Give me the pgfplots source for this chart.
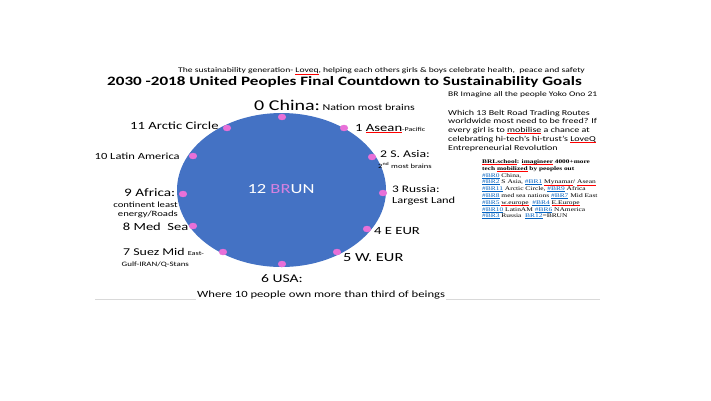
\documentclass[border=0pt]{standalone}
\usepackage{pgfplots}
\pgfplotsset{compat=1.18}
\usepackage{fontspec}
\setmainfont{Carlito}[FakeStretch=1.333]
\newfontfamily\tnr{Liberation Serif}[FakeStretch=1.333]
\definecolor{ellblue}{RGB}{68,114,196}
\definecolor{dotpink}{RGB}{232,112,216}
\definecolor{brpink}{RGB}{214,130,224}
\definecolor{linkblue}{RGB}{5,99,193}
\definecolor{rulegray}{RGB}{217,217,217}
\newcommand{\fs}[1]{\fontsize{#1}{#1}\selectfont}
\newcommand{\sq}[1]{\setbox0\hbox{#1}\rlap{\raisebox{-1.1pt}{\textcolor{red}{\rule{\wd0}{0.35pt}}}}\box0\relax}
\newcommand{\lk}[1]{\setbox0\hbox{\textcolor{linkblue}{#1}}\rlap{\raisebox{-0.8pt}{\textcolor{linkblue}{\rule{\wd0}{0.3pt}}}}\box0\relax}
\tikzset{
  lab/.style={inner sep=0pt, anchor=base west},
  labr/.style={inner sep=0pt, anchor=base east},
}
\begin{document}
\begin{tikzpicture}
\begin{axis}[
  width=711pt, height=400pt, scale only axis,
  xmin=0, xmax=711, ymin=0, ymax=400, y dir=reverse,
  hide axis, clip=false,
]
\fill[white] (axis cs:0,0) rectangle (axis cs:711,400);
\fill[ellblue] (axis cs:281.5,190) ellipse [x radius=104.5, y radius=77];
\draw[rulegray, line width=1.6pt] (axis cs:95,299.3) -- (axis cs:600,299.3);
\addplot[only marks, mark=*, mark size=3pt, color=dotpink, mark options={xscale=1.3}] coordinates {
 (282,117) (344,128) (372,157) (383,193) (367,229) (337,252)
 (282,264) (223,252) (193,226) (183,194) (193,156) (227,128)};
% header
\node[lab, font=\fs{7.2}] at (axis cs:178,72.9) {The sustainability generation- \sq{Loveq}, helping each others girls \& boys celebrate health,\ \ peace and safety};
\node[lab, font=\bfseries\fs{12.8}] at (axis cs:107,85.7) {2030 -2018 United Peoples Final Countdown to Sustainability Goals};
\node[lab, font=\fs{7.15}] at (axis cs:448,96.7) {BR Imagine all the people Yoko Ono 21};
% paragraph
\node[lab, font=\fs{7.5}] at (axis cs:448,115.2) {Which 13 Belt Road Trading Routes};
\node[lab, font=\fs{7.5}] at (axis cs:448,123.9) {worldwide most need to be freed? If};
\node[lab, font=\fs{7.5}] at (axis cs:448,132.6) {every girl is to \sq{mobilise} a chance at};
\node[lab, font=\fs{7.5}] at (axis cs:448,141.3) {celebrating hi-tech’s hi-trust’s \sq{LoveQ}};
\node[lab, font=\fs{7.5}] at (axis cs:448,150.0) {Entrepreneurial Revolution};
% box
\node[lab, font=\tnr\bfseries\fs{5.5}] at (axis cs:482,163.5) {\sq{BRLschool}: \sq{imagineer} 4000+more};
\node[lab, font=\tnr\bfseries\fs{5.5}] at (axis cs:482,170.3) {tech \sq{mobilized} by peoples out};
\node[lab, font=\tnr\fs{5.6}] at (axis cs:482,177.1) {\lk{\#BR0} China,};
\node[lab, font=\tnr\fs{5.6}] at (axis cs:482,183.9) {\lk{\#BR2} S Asia, \lk{\#BR1} \sq{Mynamar}/ \sq{Asean}};
\node[lab, font=\tnr\fs{5.6}] at (axis cs:482,190.7) {\lk{\#BR11} Arctic Circle, \lk{\#BR9} Africa};
\node[lab, font=\tnr\fs{5.6}] at (axis cs:482,197.5) {\lk{\#BR8} med sea nations \lk{\#BR7} Mid East};
\node[lab, font=\tnr\fs{5.6}] at (axis cs:482,204.3) {\lk{\#BR5} \sq{w.europe}\ \ \lk{\#BR4} \sq{E.Europe}};
\node[lab, font=\tnr\fs{5.6}] at (axis cs:482,211.1) {\lk{\#BR10} LatinAM \lk{\#BR6} NAmerica};
\node[lab, font=\tnr\fs{5.6}] at (axis cs:482,217.9) {\lk{\#BR3} Russia\ \ \lk{BR12}=BRUN};
% labels
\node[lab] at (axis cs:254,110.5) {\fs{15}0 China:\hspace{2.5pt}\fs{9}Nation most brains};
\node[lab, font=\fs{11}] at (axis cs:130,129.6) {11 Arctic Circle};
\node[lab] at (axis cs:355,131) {\fs{11}1 \sq{Asean}\fs{6}-Pacific};
\node[lab, font=\fs{9.4}] at (axis cs:94.5,159.8) {10 Latin America};
\node[lab, font=\fs{10.3}] at (axis cs:380,157.8) {2 S. Asia:};
\node[lab, font=\fs{6.4}] at (axis cs:378,168) {2\textsuperscript{nd} most brains};
\node[lab, font=\fs{11.4}] at (axis cs:124,196) {9 Africa:};
\node[labr, font=\fs{8}] at (axis cs:178,207) {continent least};
\node[labr, font=\fs{8}] at (axis cs:178,216.6) {energy/Roads};
\node[inner sep=0pt, anchor=base, font=\fs{13.9}, text=white] at (axis cs:281,193.6) {12 \textcolor{brpink}{BR}UN};
\node[lab, font=\fs{10}] at (axis cs:392,192.3) {3 Russia:};
\node[lab, font=\fs{9.3}] at (axis cs:392,203) {Largest Land};
\node[labr, font=\fs{10.9}] at (axis cs:188.5,230) {8 Med\ \ Sea};
\node[lab, font=\fs{11}] at (axis cs:374,234.6) {4 E EUR};
\node[lab] at (axis cs:123,255) {\fs{10.4}7 Suez Mid \fs{6.2}East-};
\node[lab, font=\fs{6.7}] at (axis cs:121.5,266.3) {Gulf-IRAN/Q-Stans};
\node[lab, font=\fs{12.3}] at (axis cs:343,261) {5 W. EUR};
\node[lab, font=\fs{11.7}] at (axis cs:261,282.8) {6 USA:};
\node[inner sep=1pt, anchor=base west, fill=white, font=\fs{9.5}] at (axis cs:196,297.3) {Where 10 people own more than third of beings};
\end{axis}
\end{tikzpicture}
\end{document}
